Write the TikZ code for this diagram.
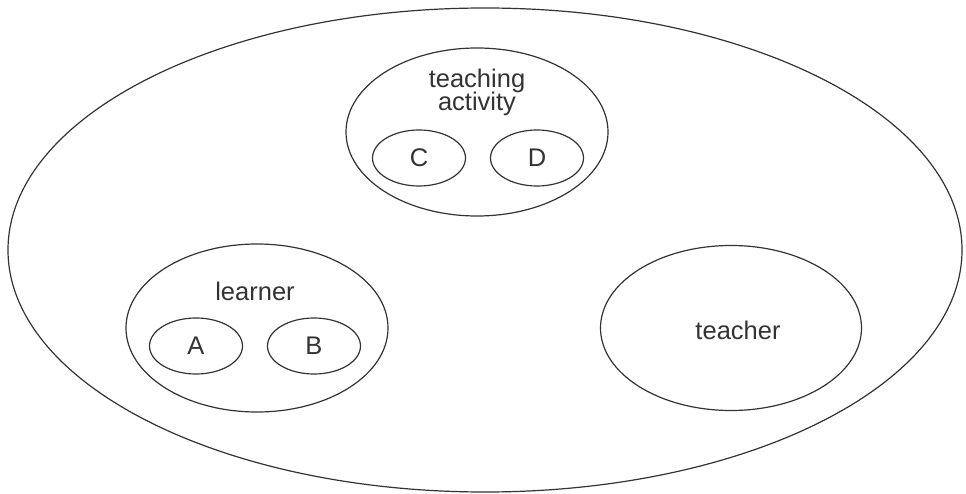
\documentclass[tikz,border=0pt]{standalone}
\usepackage{fontspec}
\setmainfont{Liberation Sans}
\usepackage{tikz}
\usetikzlibrary{shapes.geometric}
\usetikzlibrary{positioning}

\tikzset{
	set/.style={draw=black!80,line width=1.2pt,ellipse,inner sep=0pt},
	word/.style={font=\fontsize{25.5}{26}\selectfont,text=black!80,align=center}
}

\begin{document}
\begin{tikzpicture}[x=1pt,y=-1pt]
	\useasboundingbox (0,0) rectangle (966,494);
	% the whole situation
	\node[set,minimum width=954,minimum height=484] (world) at (485,250) {};
	% teaching activity with C and D
	\node[set,minimum width=262,minimum height=168] (activity) at (477,132) {};
	\node[word] (activitytext) at (477,92) {teaching\\[-3pt]activity};
	\node[set,minimum width=93,minimum height=56] (c) at (419,158) {};
	\node[set,minimum width=93,minimum height=56] (d) at (537,158) {};
	\node[word] at (c) {C};
	\node[word] at (d) {D};
	% learner with A and B
	\node[set,minimum width=262,minimum height=168] (learner) at (257,328) {};
	\node[word] (learnertext) at (255,291) {learner};
	\node[set,minimum width=93,minimum height=56] (a) at (196,346) {};
	\node[set,minimum width=93,minimum height=56] (b) at (314,346) {};
	\node[word] at (a) {A};
	\node[word] at (b) {B};
	% teacher
	\node[set,minimum width=261,minimum height=165] (teacher) at (731,328) {};
	\node[word] (teachertext) at (738,330) {teacher};
\end{tikzpicture}
\end{document}
